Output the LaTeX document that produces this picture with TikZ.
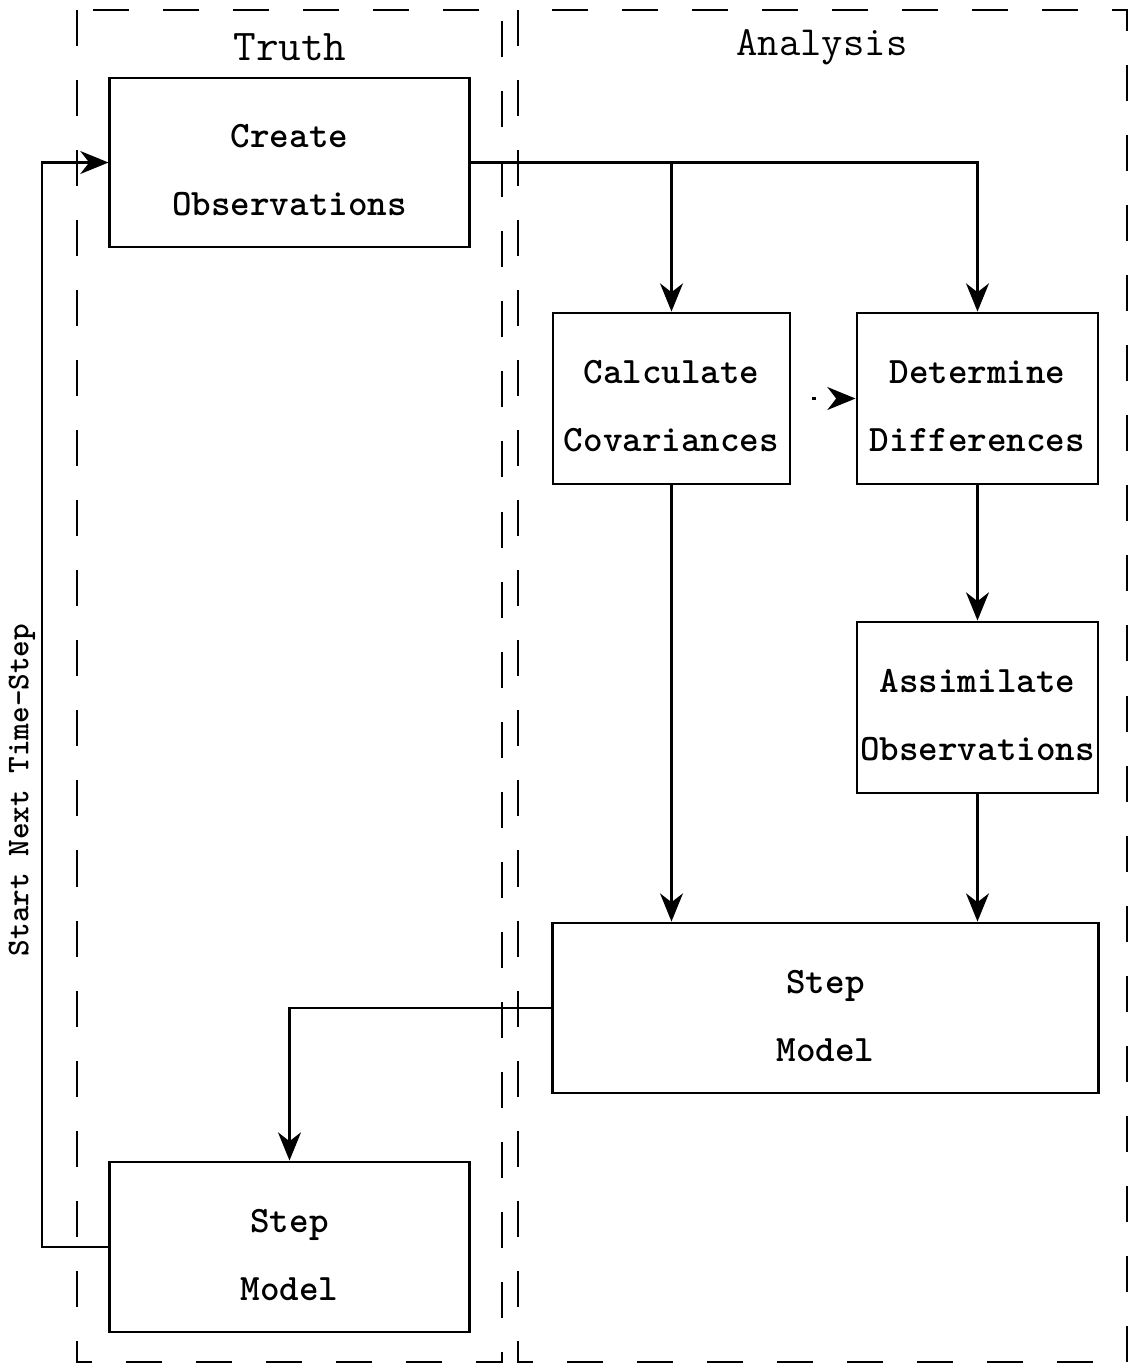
\documentclass[tikz,border=0pt]{standalone}
\usetikzlibrary{arrows.meta,positioning}

\begin{document}
\begin{tikzpicture}[x=0.01cm,y=-0.01cm,>={Stealth[length=8pt,width=6.5pt,inset=2.5pt]},line width=0.8pt]
\tikzstyle{every node}+=[font=\ttfamily\bfseries]
\tikzstyle{stepbox}=[draw,align=center,inner sep=0pt,text height=30.3pt,text depth=0pt,font=\ttfamily\bfseries\fontsize{10.6}{19.3}\selectfont]
\tikzstyle{panel}=[dash pattern=on 0.36cm off 0.34cm,line width=0.7pt]
\useasboundingbox (0,0) rectangle (1131,1365);

% the two columns
\draw[panel] (77,10) rectangle (502,1362);
\draw[panel] (518,10) rectangle (1127,1362);
\node[font=\ttfamily\fontsize{12.5}{14}\selectfont] (truth) at (290,47) {Truth};
\node[font=\ttfamily\fontsize{11.8}{14}\selectfont] (analysis) at (822,47) {Analysis};

\node[stepbox,minimum width=3.59cm,minimum height=1.69cm] (cobs) at (289.5,162.5) {Create\\Observations};
\node[stepbox,minimum width=2.37cm,minimum height=1.71cm] (calc) at (671.5,398.5) {Calculate\\Covariances};
\node[stepbox,minimum width=2.41cm,minimum height=1.71cm] (diff) at (977.5,398.5) {Determine\\Differences};
\node[stepbox,minimum width=2.41cm,minimum height=1.71cm] (assim) [below=1.35cm of diff] {Assimilate\\Observations};
\node[stepbox,minimum width=5.45cm,minimum height=1.70cm] (stepa) at (825.5,1008) {Step\\Model};
\node[stepbox,minimum width=3.59cm,minimum height=1.70cm] (stept) at (289.5,1247) {Step\\Model};

\node[rotate=90,font=\ttfamily\bfseries\fontsize{9}{11}\selectfont] (restart) at (22,790) {Start Next Time-Step};
\coordinate (loop) at (42,1247);
\coordinate (dot) at (812,398.5);

\draw[->] (cobs.east) -| (calc.north);
\draw[->] (cobs.east) -| (diff.north);
\draw[->] (stepa.west) -| (stept.north);
\draw[->] (stept.west) -- (loop) |- (cobs.west);
\path[->]
  (calc.south) edge (calc.south |- stepa.north)
  (diff) edge (assim)
  (assim.south) edge (assim.south |- stepa.north)
  (dot) edge[dash pattern=on 1.2pt off 12pt] (diff.west)
;
\end{tikzpicture}
\end{document}
